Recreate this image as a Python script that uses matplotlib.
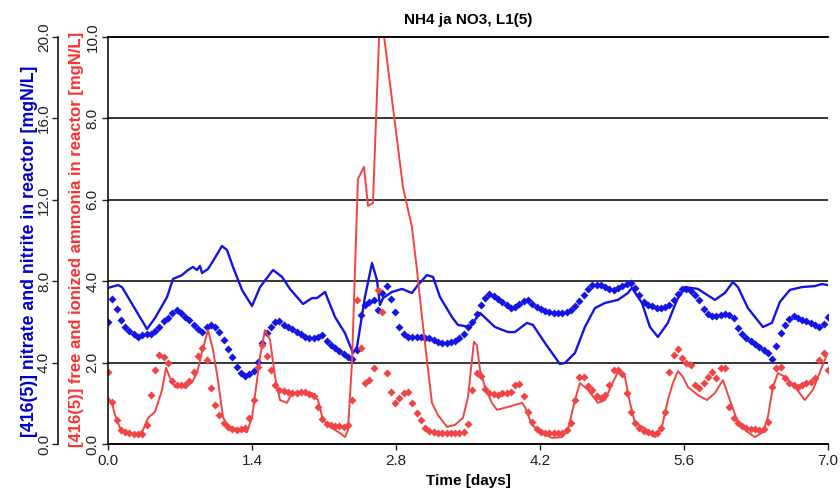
import numpy as np
import matplotlib
matplotlib.use("Agg")
import matplotlib.pyplot as plt

# hourly samples over 7 days (diamond series)
hours = np.arange(169) / 24.0

no3_pts = [6.00, 7.13, 6.63, 6.09, 5.75, 5.55, 5.41, 5.26, 5.36, 5.41,
           5.41, 5.55, 5.75, 6.04, 6.19, 6.44, 6.58, 6.44, 6.24, 6.09,
           5.85, 5.65, 5.50, 5.75, 5.85, 5.75, 5.50, 5.11, 4.67, 4.28,
           3.78, 3.49, 3.34, 3.44, 3.59, 4.03, 4.96, 5.45, 5.75, 6.00,
           6.04, 5.85, 5.75, 5.65, 5.50, 5.41, 5.26, 5.21, 5.21, 5.26,
           5.36, 5.06, 4.86, 4.72, 4.57, 4.42, 4.28, 4.18, 4.62, 6.34,
           6.83, 6.98, 7.08, 6.58, 7.42, 7.76, 7.13, 6.49, 5.75, 5.41,
           5.26, 5.26, 5.26, 5.26, 5.21, 5.21, 5.11, 5.01, 4.96, 4.96,
           5.01, 5.06, 5.21, 5.41, 5.75, 6.00, 6.39, 6.83, 7.17, 7.37,
           7.27, 7.13, 6.98, 6.83, 6.68, 6.73, 6.88, 7.03, 7.08, 6.88,
           6.73, 6.63, 6.54, 6.49, 6.44, 6.44, 6.44, 6.49, 6.58, 6.78,
           7.03, 7.32, 7.62, 7.81, 7.81, 7.81, 7.71, 7.62, 7.57, 7.67,
           7.76, 7.86, 7.91, 7.67, 7.32, 6.98, 6.83, 6.78, 6.68, 6.68,
           6.73, 6.83, 7.08, 7.37, 7.62, 7.62, 7.52, 7.32, 7.08, 6.63,
           6.39, 6.29, 6.29, 6.34, 6.39, 6.34, 6.19, 5.70, 5.41, 5.21,
           5.06, 4.91, 4.77, 4.62, 4.47, 4.18, 4.82, 5.45, 5.85, 6.14,
           6.29, 6.19, 6.09, 6.04, 5.95, 5.85, 5.75, 5.90, 6.24]

nh4_pts = [1.77, 1.03, 0.59, 0.34, 0.29, 0.27, 0.25, 0.25, 0.25, 0.47,
           1.20, 1.82, 2.19, 2.14, 1.99, 1.55, 1.45, 1.45, 1.45, 1.55,
           1.77, 2.16, 2.36, 2.06, 1.38, 0.96, 0.71, 0.52, 0.42, 0.37,
           0.34, 0.37, 0.39, 0.64, 1.08, 1.89, 2.43, 2.16, 1.82, 1.45,
           1.33, 1.30, 1.28, 1.25, 1.25, 1.28, 1.28, 1.23, 1.18, 0.91,
           0.61, 0.49, 0.47, 0.44, 0.44, 0.42, 0.47, 1.08, 3.54, 2.36,
           1.50, 1.57, 1.87, 3.78, 3.24, 1.74, 1.28, 1.01, 1.13, 1.25,
           1.28, 1.01, 0.76, 0.59, 0.39, 0.32, 0.29, 0.27, 0.27, 0.27,
           0.27, 0.27, 0.27, 0.29, 0.49, 1.33, 1.74, 1.67, 1.35, 1.25,
           1.23, 1.20, 1.25, 1.25, 1.28, 1.45, 1.47, 1.18, 0.79, 0.54,
           0.37, 0.29, 0.27, 0.27, 0.27, 0.27, 0.27, 0.34, 0.52, 1.08,
           1.65, 1.65, 1.43, 1.33, 1.18, 1.13, 1.20, 1.45, 1.82, 1.82,
           1.72, 1.25, 0.79, 0.52, 0.39, 0.32, 0.29, 0.27, 0.27, 0.39,
           0.79, 1.77, 2.19, 2.33, 2.11, 1.99, 1.94, 1.45, 1.38, 1.50,
           1.65, 1.77, 1.62, 1.87, 1.87, 0.91, 0.64, 0.52, 0.44, 0.39,
           0.37, 0.37, 0.34, 0.37, 0.54, 1.40, 1.87, 1.89, 1.62, 1.50,
           1.45, 1.40, 1.45, 1.50, 1.52, 1.62, 2.06, 2.24, 1.82]

# solid lines (time [d], value)
no3_t = [0.00, 0.097, 0.136, 0.379, 0.457, 0.574, 0.632, 0.719, 0.778, 0.826,
         0.865, 0.894, 0.914, 0.972, 1.021, 1.108, 1.157, 1.215, 1.303, 1.400,
         1.478, 1.604, 1.692, 1.769, 1.896, 1.983, 2.032, 2.110, 2.207, 2.304,
         2.382, 2.421, 2.498, 2.567, 2.615, 2.644, 2.674, 2.761, 2.858, 2.955,
         3.014, 3.101, 3.160, 3.228, 3.344, 3.403, 3.519, 3.617, 3.762, 3.889,
         3.957, 4.073, 4.132, 4.249, 4.394, 4.443, 4.540, 4.637, 4.735, 4.832,
         4.958, 5.055, 5.094, 5.192, 5.269, 5.347, 5.444, 5.532, 5.610, 5.736,
         5.901, 5.998, 6.076, 6.125, 6.222, 6.368, 6.455, 6.533, 6.630, 6.747,
         6.873, 6.941, 7.000]
no3_v = [7.67, 7.81, 7.71, 5.65, 6.19, 7.22, 8.11, 8.30, 8.55, 8.70,
         8.55, 8.75, 8.40, 8.60, 8.99, 9.73, 9.53, 8.70, 7.57, 6.78,
         7.71, 8.55, 8.21, 7.62, 6.88, 7.17, 7.17, 7.47, 6.24, 5.45,
         4.47, 4.77, 7.22, 8.89, 8.06, 6.83, 7.17, 7.47, 7.62, 7.42,
         7.81, 8.30, 8.21, 7.22, 6.24, 5.85, 5.75, 6.44, 5.75, 5.50,
         5.50, 5.95, 5.85, 4.96, 3.93, 3.98, 4.47, 5.75, 6.68, 6.93,
         7.08, 7.42, 7.67, 6.93, 5.75, 5.26, 5.95, 7.08, 7.71, 7.62,
         7.08, 7.42, 7.96, 7.71, 6.68, 5.75, 5.95, 6.98, 7.57, 7.71,
         7.76, 7.86, 7.81]

nh4_t = [0.000, 0.039, 0.068, 0.117, 0.194, 0.282, 0.340, 0.389, 0.457, 0.525,
         0.564, 0.603, 0.651, 0.749, 0.817, 0.865, 0.914, 0.972, 1.021, 1.069,
         1.118, 1.167, 1.264, 1.351, 1.400, 1.449, 1.478, 1.526, 1.575, 1.624,
         1.672, 1.740, 1.789, 1.886, 1.983, 2.042, 2.090, 2.178, 2.255, 2.304,
         2.333, 2.372, 2.430, 2.489, 2.528, 2.576, 2.640, 2.670, 2.868, 2.955,
         3.004, 3.053, 3.101, 3.150, 3.208, 3.296, 3.374, 3.451, 3.500, 3.558,
         3.587, 3.617, 3.665, 3.733, 3.782, 3.889, 4.025, 4.054, 4.122, 4.219,
         4.316, 4.414, 4.472, 4.540, 4.589, 4.667, 4.764, 4.832, 4.910, 4.958,
         5.026, 5.075, 5.123, 5.221, 5.318, 5.386, 5.444, 5.493, 5.542, 5.590,
         5.639, 5.736, 5.823, 5.901, 5.979, 6.047, 6.125, 6.222, 6.290, 6.368,
         6.416, 6.465, 6.514, 6.582, 6.679, 6.776, 6.854, 6.941, 6.990]
nh4_v = [1.13, 1.01, 0.71, 0.39, 0.27, 0.22, 0.34, 0.64, 0.79, 1.33,
         1.87, 1.62, 1.40, 1.40, 1.52, 1.74, 2.26, 2.80, 2.31, 1.57,
         0.66, 0.42, 0.37, 0.29, 0.66, 1.57, 2.14, 2.80, 2.56, 1.65,
         1.08, 1.01, 1.25, 1.28, 1.25, 1.08, 0.59, 0.39, 0.27, 0.17,
         0.34, 1.99, 6.51, 6.81, 5.85, 5.92, 10.3, 10.3, 6.31, 5.33,
         4.28, 3.12, 2.06, 1.01, 0.71, 0.42, 0.47, 0.64, 1.15, 2.51,
         2.43, 1.82, 1.40, 1.01, 0.84, 0.91, 1.01, 0.91, 0.47, 0.27,
         0.15, 0.17, 0.34, 1.08, 1.50, 1.33, 1.01, 1.08, 1.52, 1.77,
         1.65, 1.01, 0.52, 0.39, 0.17, 0.42, 1.08, 1.50, 1.79, 1.65,
         1.40, 1.20, 1.08, 1.25, 1.57, 1.08, 0.52, 0.29, 0.17, 0.29,
         0.66, 1.40, 1.74, 1.65, 1.40, 1.08, 1.33, 1.89, 2.19]

blue = "#1414e6"
red = "#f24444"
tick_font = ["Liberation Sans Narrow", "Liberation Sans", "DejaVu Sans"]

fig = plt.figure(figsize=(8.4, 4.93), dpi=100)
ax = fig.add_axes([0.1286, 0.0994, 0.857, 0.8256])
ax2 = ax.twinx()

# blue axis (outer left)
ax.plot(no3_t, no3_v, color=blue, lw=1.7)
ax.plot(hours, no3_pts, ls="none", marker="D", ms=4.2, color=blue, mec="none")
ax.set_ylim(0, 20)
ax.set_yticks([0, 4, 8, 12, 16, 20])
ax.set_yticklabels(["0.0", "4.0", "8.0", "12.0", "16.0", "20.0"])
ax.spines["left"].set_position(("outward", 36))
ax.spines["right"].set_visible(False)
for y in [4, 8, 12, 16]:
    ax.axhline(y, color="black", lw=1.1, zorder=0)

# red axis (inner left)
ax2.plot(nh4_t, nh4_v, color=red, lw=1.4)
ax2.plot(hours, nh4_pts, ls="none", marker="D", ms=4.2, color=red, mec="none")
ax2.set_ylim(0, 10)
ax2.yaxis.tick_left()
ax2.yaxis.set_label_position("left")
ax2.set_yticks([0, 2, 4, 6, 8, 10])
ax2.set_yticklabels(["0.0", "2.0", "4.0", "6.0", "8.0", "10.0"])

ax.set_xlim(0, 7)
ax.set_xticks([0, 1.4, 2.8, 4.2, 5.6, 7.0])
ax.set_xticklabels(["0.0", "1.4", "2.8", "4.2", "5.6", "7.0"])

for a in (ax, ax2):
    for s in a.spines.values():
        s.set_linewidth(1.1)
    a.tick_params(length=4, width=1.0, colors="#222222", labelsize=11)
    for lab in a.get_xticklabels() + a.get_yticklabels():
        lab.set_family(tick_font)
    for lab in a.get_yticklabels():
        lab.set_rotation(90)
        lab.set_va("center")
ax2.spines["right"].set_visible(False)
ax.tick_params(axis="y", pad=1)
ax2.tick_params(axis="y", pad=2)

ax.set_ylabel("[416(5)] nitrate and nitrite in reactor [mgN/L]", color="#0000cc",
              fontsize=12.8, fontweight="bold", family=tick_font)
ax.yaxis.set_label_coords(-0.097, 0.474)
ax2.set_ylabel("[416(5)] free and ionized ammonia in reactor [mgN/L]", color="#ff3030",
               fontsize=12, fontweight="bold", family=tick_font)
ax2.yaxis.set_label_coords(-0.034, 0.503)
ax.set_xlabel("Time [days]", fontsize=11, fontweight="bold", family=tick_font)
ax.set_title("NH4 ja NO3, L1(5)", fontsize=11, fontweight="bold", family=tick_font, pad=9)

fig.savefig("out.png", dpi=100)
